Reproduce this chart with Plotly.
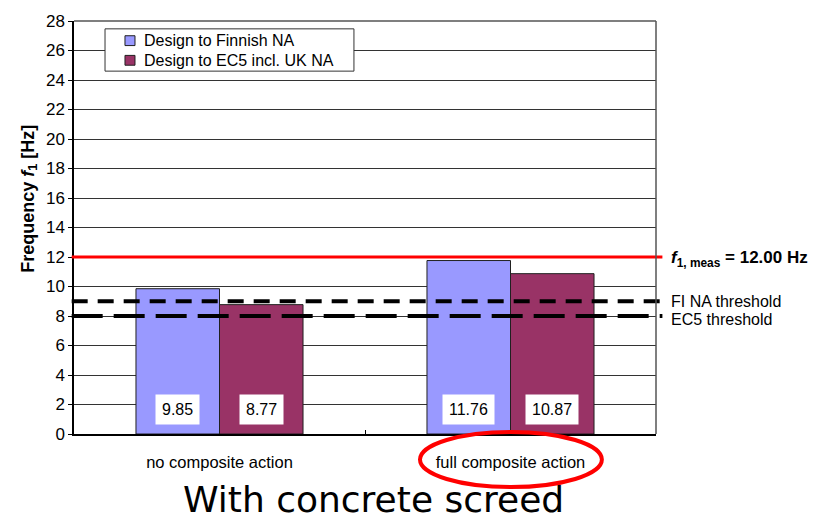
import plotly.graph_objects as go

categories = ["no composite action", "full composite action"]
series_names = ["Design to Finnish NA", "Design to EC5 incl. UK NA"]
finnish_na = [9.85, 11.76]
ec5_uk_na = [8.77, 10.87]
f_meas = 12.00
fi_na_threshold = 9.0
ec5_threshold = 8.0
y_ticks = list(range(0, 29, 2))

FONT = "Liberation Sans, Arial, sans-serif"
BLUE = "#9999FF"
MAROON = "#993366"
colors = [BLUE, MAROON]

fig = go.Figure()
for name, vals, col in zip(series_names, (finnish_na, ec5_uk_na), colors):
    fig.add_trace(go.Bar(x=categories, y=vals, name=name, showlegend=False,
                         marker=dict(color=col, line=dict(color="#202020", width=1))))

# value labels in white boxes inside bars
bar_half = 291 * (1 - 0.426) / 4
for vals, shift in ((finnish_na, -bar_half), (ec5_uk_na, bar_half)):
    for cat, v in zip(categories, vals):
        fig.add_annotation(x=cat, y=1.65, xref="x", yref="y", text=f"{v:.2f}",
                           showarrow=False, xshift=shift, bgcolor="white",
                           borderpad=6, font=dict(family=FONT, size=16, color="black"))

# horizontal reference lines
fig.add_shape(type="line", xref="paper", yref="y", x0=-0.004, x1=1.011,
              y0=f_meas, y1=f_meas, line=dict(color="#FF0000", width=3))
fig.add_shape(type="line", xref="paper", yref="y", x0=-0.004, x1=1.011,
              y0=fi_na_threshold, y1=fi_na_threshold,
              line=dict(color="black", width=4, dash="16px,10px"))
fig.add_shape(type="line", xref="paper", yref="y", x0=-0.004, x1=1.011,
              y0=ec5_threshold, y1=ec5_threshold,
              line=dict(color="black", width=4, dash="31px,11px"))

# top and right frame
fig.add_shape(type="line", xref="paper", yref="paper", x0=0, x1=1, y0=1, y1=1,
              line=dict(color="#555555", width=1.5))
fig.add_shape(type="line", xref="paper", yref="paper", x0=1, x1=1, y0=0, y1=1,
              line=dict(color="#555555", width=1.5))

# legend box (drawn manually to match the compact original)
fig.add_shape(type="rect", xref="paper", yref="paper", x0=0.0533, x1=0.481,
              y0=0.8786, y1=0.981, fillcolor="white",
              line=dict(color="#333333", width=1))
for i, (name, col) in enumerate(zip(series_names, colors)):
    yc = 0.9524 - i * 0.0476
    fig.add_shape(type="rect", xref="paper", yref="paper", x0=0.0876, x1=0.1048,
                  y0=yc - 0.0119, y1=yc + 0.0119, fillcolor=col,
                  line=dict(color="#202020", width=1))
    fig.add_annotation(x=0.1168, y=yc, xref="paper", yref="paper", xanchor="left",
                       yanchor="middle", showarrow=False, text=name,
                       font=dict(family=FONT, size=16, color="black"))

# right-side labels
fig.add_annotation(x=1.022, y=f_meas, xref="paper", yref="y", xanchor="left",
                   yanchor="middle", showarrow=False, yshift=-2,
                   text=f"<b><i>f</i><sub>1, meas</sub> = {f_meas:.2f} Hz</b>",
                   font=dict(family=FONT, size=17, color="black"))
fig.add_annotation(x=1.022, y=fi_na_threshold, xref="paper", yref="y", xanchor="left",
                   yanchor="middle", showarrow=False, text="FI NA threshold",
                   font=dict(family=FONT, size=16, color="black"))
fig.add_annotation(x=1.022, y=ec5_threshold, xref="paper", yref="y", xanchor="left",
                   yanchor="middle", showarrow=False, yshift=-3, text="EC5 threshold",
                   font=dict(family=FONT, size=16, color="black"))

# y-axis title
fig.add_annotation(x=-0.077, y=0.57, xref="paper", yref="paper", textangle=-90,
                   showarrow=False, xanchor="center", yanchor="middle",
                   text="<b>Frequency <i>f</i><sub>1</sub> [Hz]</b>",
                   font=dict(family=FONT, size=18, color="black"))

# red ellipse around second category label
fig.add_shape(type="circle", xref="paper", yref="paper", x0=0.5945, x1=0.907,
              y0=0.005, y1=-0.1286, line=dict(color="#FF0000", width=4))

# big caption
fig.add_annotation(x=0.515, y=-0.158, xref="paper", yref="paper", showarrow=False,
                   xanchor="center", yanchor="middle", text="With concrete screed",
                   font=dict(family="DejaVu Sans, sans-serif", size=36, color="black"))

fig.update_layout(
    width=816, height=524,
    margin=dict(l=74, r=160, t=14, b=90),
    paper_bgcolor="white", plot_bgcolor="white",
    barmode="group", bargap=0.426, bargroupgap=0,
    font=dict(family=FONT, size=16, color="black"),
    showlegend=False,
    xaxis=dict(type="category", showline=True, linecolor="black", linewidth=1.5,
               ticks="inside", tickson="boundaries", ticklen=4, tickcolor="black",
               showgrid=False, ticklabelstandoff=12,
               tickfont=dict(family=FONT, size=16.5, color="black")),
    yaxis=dict(range=[0, 28], tickvals=y_ticks, showline=True, linecolor="black",
               linewidth=1.5, ticks="outside", ticklen=4, tickcolor="black",
               showgrid=True, gridcolor="#333333", gridwidth=1, zeroline=False,
               tickfont=dict(family=FONT, size=17, color="black")),
)

fig.write_html("out.html")
